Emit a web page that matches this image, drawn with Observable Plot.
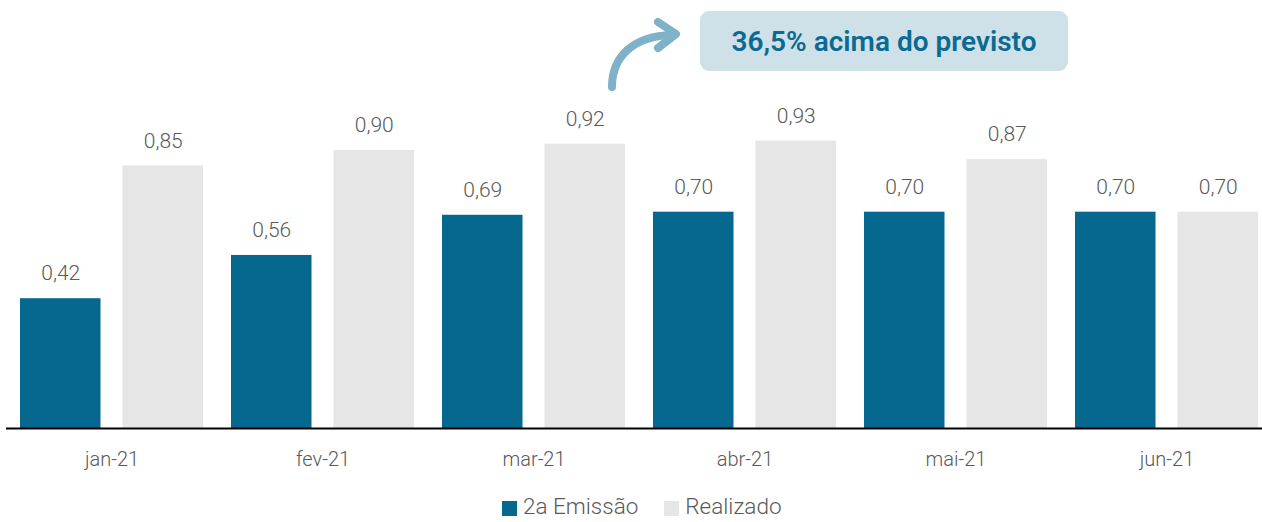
<!DOCTYPE html>
<html>
<head>
<meta charset="utf-8">
<script src="https://cdn.jsdelivr.net/npm/d3@7"></script>
<script src="https://cdn.jsdelivr.net/npm/@observablehq/plot@0.6"></script>
<style>
  html, body { margin: 0; padding: 0; background: #fff; }
  #wrap { position: relative; width: 1262px; height: 522px; font-family: Roboto, "Noto Sans", sans-serif; }
  #legend { position: absolute; left: 502px; top: 496px; display: flex; align-items: center; font-size: 22.5px; font-weight: 300; color: #595959; line-height: 20px; height: 20px; }
  #legend .sw { display: inline-block; width: 15px; height: 15px; margin-right: 6px; margin-top: 4px; }
  #legend .item { display: flex; align-items: center; margin-right: 26px; }
  #note { position: absolute; left: 700px; top: 11px; width: 368px; height: 60px; border-radius: 9px; background: #cfe1e8;
          display: flex; align-items: center; justify-content: center; font-size: 28px; font-weight: 600; color: #0b6a91; }
  #arrow { position: absolute; left: 0; top: 0; }
</style>
</head>
<body>
<div id="wrap">
  <div id="chart"></div>
  <svg id="arrow" width="1262" height="120"></svg>
  <div id="note">36,5% acima do previsto</div>
  <div id="legend"></div>
</div>
<script>
const months = ["jan-21", "fev-21", "mar-21", "abr-21", "mai-21", "jun-21"];
const seriesNames = ["2a Emissão", "Realizado"];
const emissao = [0.42, 0.56, 0.69, 0.70, 0.70, 0.70];
const realizado = [0.85, 0.90, 0.92, 0.93, 0.87, 0.70];
const seriesColors = ["#06678f", "#e6e6e6"];

const data = months.flatMap((m, i) => [
  {month: m, series: seriesNames[0], value: emissao[i]},
  {month: m, series: seriesNames[1], value: realizado[i]}
]);
const fmt = v => d3.format(".2f")(v).replace(".", ",");

const chart = Plot.plot({
  width: 1262,
  height: 490,
  marginLeft: 20,
  marginRight: 4,
  marginTop: 0,
  marginBottom: 62,
  style: {fontFamily: "Roboto, 'Noto Sans', sans-serif", background: "transparent"},
  fx: {domain: months, paddingInner: 0.1327, paddingOuter: 0, round: false, label: null, axis: null},
  x: {domain: seriesNames, paddingInner: 0.2146, paddingOuter: 0, round: false, axis: null},
  y: {domain: [0, 1.385], axis: null},
  color: {domain: seriesNames, range: seriesColors},
  marks: [
    Plot.barY(data, {fx: "month", x: "series", y: "value", fill: "series"}),
    Plot.text(data, {fx: "month", x: "series", y: "value", text: d => fmt(d.value), dy: -25, lineAnchor: "middle",
      fontSize: 21, fontWeight: 300, fill: "#595959"}),
    Plot.ruleY([0], {stroke: "#000", strokeWidth: 2, insetLeft: -14, insetRight: -14}),
    Plot.axisFx({anchor: "bottom", tickSize: 0, tickPadding: 23, fontSize: 20, fontWeight: 300, fill: "#595959", label: null})
  ]
});
d3.select(chart).selectAll("text").style("font-weight", 300);
document.getElementById("chart").appendChild(chart);

// arrow annotation
const svg = d3.select("#arrow");
svg.append("path")
  .attr("d", "M612,87 C612,55 635,36 672,35")
  .attr("fill", "none").attr("stroke", "#7fb1c9").attr("stroke-width", 8).attr("stroke-linecap", "round");
svg.append("path")
  .attr("d", "M658,22 L676,34 L658,48")
  .attr("fill", "none").attr("stroke", "#7fb1c9").attr("stroke-width", 8).attr("stroke-linecap", "round").attr("stroke-linejoin", "round");

// legend
const legend = d3.select("#legend");
seriesNames.forEach((s, i) => {
  const it = legend.append("div").attr("class", "item");
  it.append("span").attr("class", "sw").style("background", seriesColors[i]);
  it.append("span").text(s);
});
</script>
</body>
</html>
